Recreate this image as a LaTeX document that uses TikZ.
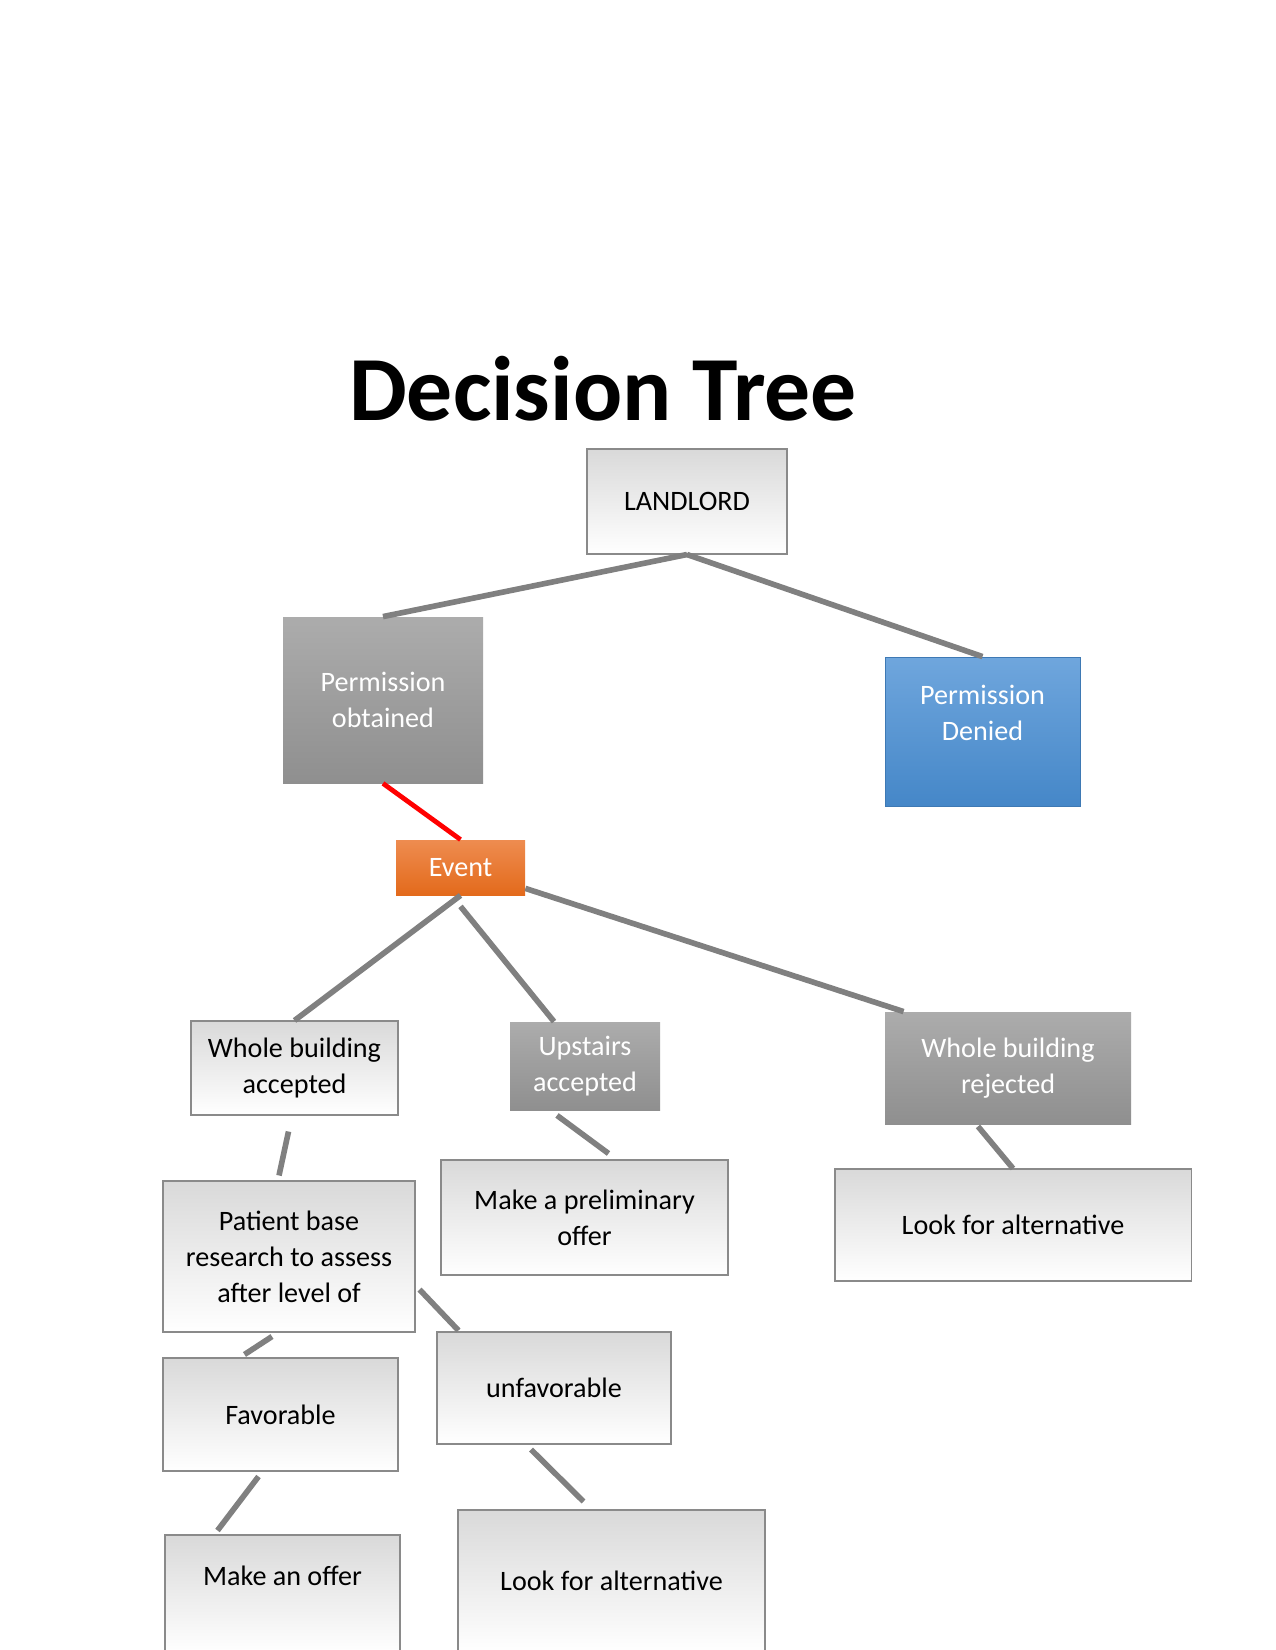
\documentclass[tikz,border=0pt]{standalone}
\usepackage{fontspec}
\setmainfont{Carlito}
\usetikzlibrary{calc}
\definecolor{linegray}{HTML}{808080}
\definecolor{boxborder}{HTML}{8A8A8A}
\definecolor{lighttop}{HTML}{D9D9D9}
\definecolor{graytop}{HTML}{ACACAC}
\definecolor{graybot}{HTML}{8F8F8F}
\definecolor{bluetop}{HTML}{6FA6DD}
\definecolor{bluebot}{HTML}{4587C8}
\definecolor{orangetop}{HTML}{EE8C50}
\definecolor{orangebot}{HTML}{E36A1B}
\tikzset{
  sz/.style 2 args={minimum width=#1*0.48pt, minimum height=#2*0.48pt},
  base/.style={rectangle, inner sep=0pt, align=center, font=\fontsize{13.5}{17.2}\selectfont},
  lightbox/.style={base, draw=boxborder, line width=0.5pt, top color=lighttop, bottom color=white, text=black},
  graybox/.style={base, top color=graytop, bottom color=graybot, text=white},
  bluebox/.style={base, top color=bluetop, bottom color=bluebot, draw=bluebot!90!black, line width=0.4pt, text=white},
  orangebox/.style={base, top color=orangetop, bottom color=orangebot, text=white},
  conn/.style={draw=linegray, line width=2.7pt},
  redconn/.style={draw=red, line width=2.3pt},
  wtxt/.style={inner sep=0pt, align=center, font=\fontsize{13.5}{17.2}\selectfont}
}
\begin{document}
\begin{tikzpicture}[x=0.48pt, y=-0.48pt]
\useasboundingbox[fill=white] (0,0) rectangle (1275,1650);

\node[anchor=base, inner sep=0pt, font=\fontsize{44}{50}\selectfont\bfseries] (title) at (603,421) {Decision Tree};

\node[lightbox, sz={200}{105}] (ld) at (687,501.5) {LANDLORD};
\node[graybox, sz={200}{166}] (po) at (383,700) {Permission\\obtained};
\node[bluebox, sz={195}{149}] (pd) at (982.5,731.5) {};
\node[wtxt, text=white] (pdt) at ($(pd.center)+(0,-19)$) {Permission\\Denied};
\node[orangebox, sz={129}{55}] (ev) at (460.5,867.5) {Event};
\node[lightbox, sz={207}{94}] (wba) at (294.5,1068) {Whole building\\accepted};
\node[graybox, sz={150}{88}] (ua) at (585,1066) {Upstairs\\accepted};
\node[graybox, sz={246}{112}] (wbr) at (1008,1068) {Whole building\\rejected};
\node[lightbox, sz={252}{151}] (pb) at (289,1256.5) {Patient base\\research to assess\\after level of};
\node[lightbox, sz={287}{115}] (mpo) at (584.5,1217.5) {Make a preliminary\\offer};
\node[lightbox, sz={356}{112}] (lfa1) at (1013,1225) {Look for alternative};
\node[lightbox, sz={235}{113}] (fav) at (280.5,1414.5) {Favorable};
\node[lightbox, sz={234}{112}] (unf) at (554,1388) {unfavorable};
\node[lightbox, sz={235}{118}] (mao) at (282.5,1594) {};
\node[wtxt] (maot) at ($(mao.center)+(0,-18)$) {Make an offer};
\node[lightbox, sz={307}{142}] (lfa2) at (611.5,1581) {Look for alternative};

\draw[conn] (ld.south) -- (po.north);
\draw[conn] (ld.south) -- (pd.north);
\draw[redconn] (po.south) -- (ev.north);
\draw[conn] (ev.south) -- (wba.north);
\draw[conn] ($(ev.south)+(0,11)$) -- ($(ua.north)+(-31,0)$);
\draw[conn] ($(ev.south east)+(0,-7)$) -- ($(wbr.north west)+(19,0)$);
\draw[conn] ($(wba.south)+(-6,16)$) -- ($(pb.north)+(-10,-5)$);
\draw[conn] ($(ua.south)+(-28,5)$) -- ($(mpo.north)+(24,-6)$);
\draw[conn] ($(wbr.south)+(-30,2)$) -- (lfa1.north);
\draw[conn] ($(pb.south)+(-17,4)$) -- ($(fav.north)+(-36,-3)$);
\draw[conn] ($(pb.south east)+(4,-43)$) -- ($(unf.north west)+(22,-1)$);
\draw[conn] ($(fav.south)+(-22,5)$) -- ($(mao.north)+(-65,-4)$);
\draw[conn] ($(unf.south)+(-23,5)$) -- ($(lfa2.north)+(-28,-8)$);
\end{tikzpicture}
\end{document}
